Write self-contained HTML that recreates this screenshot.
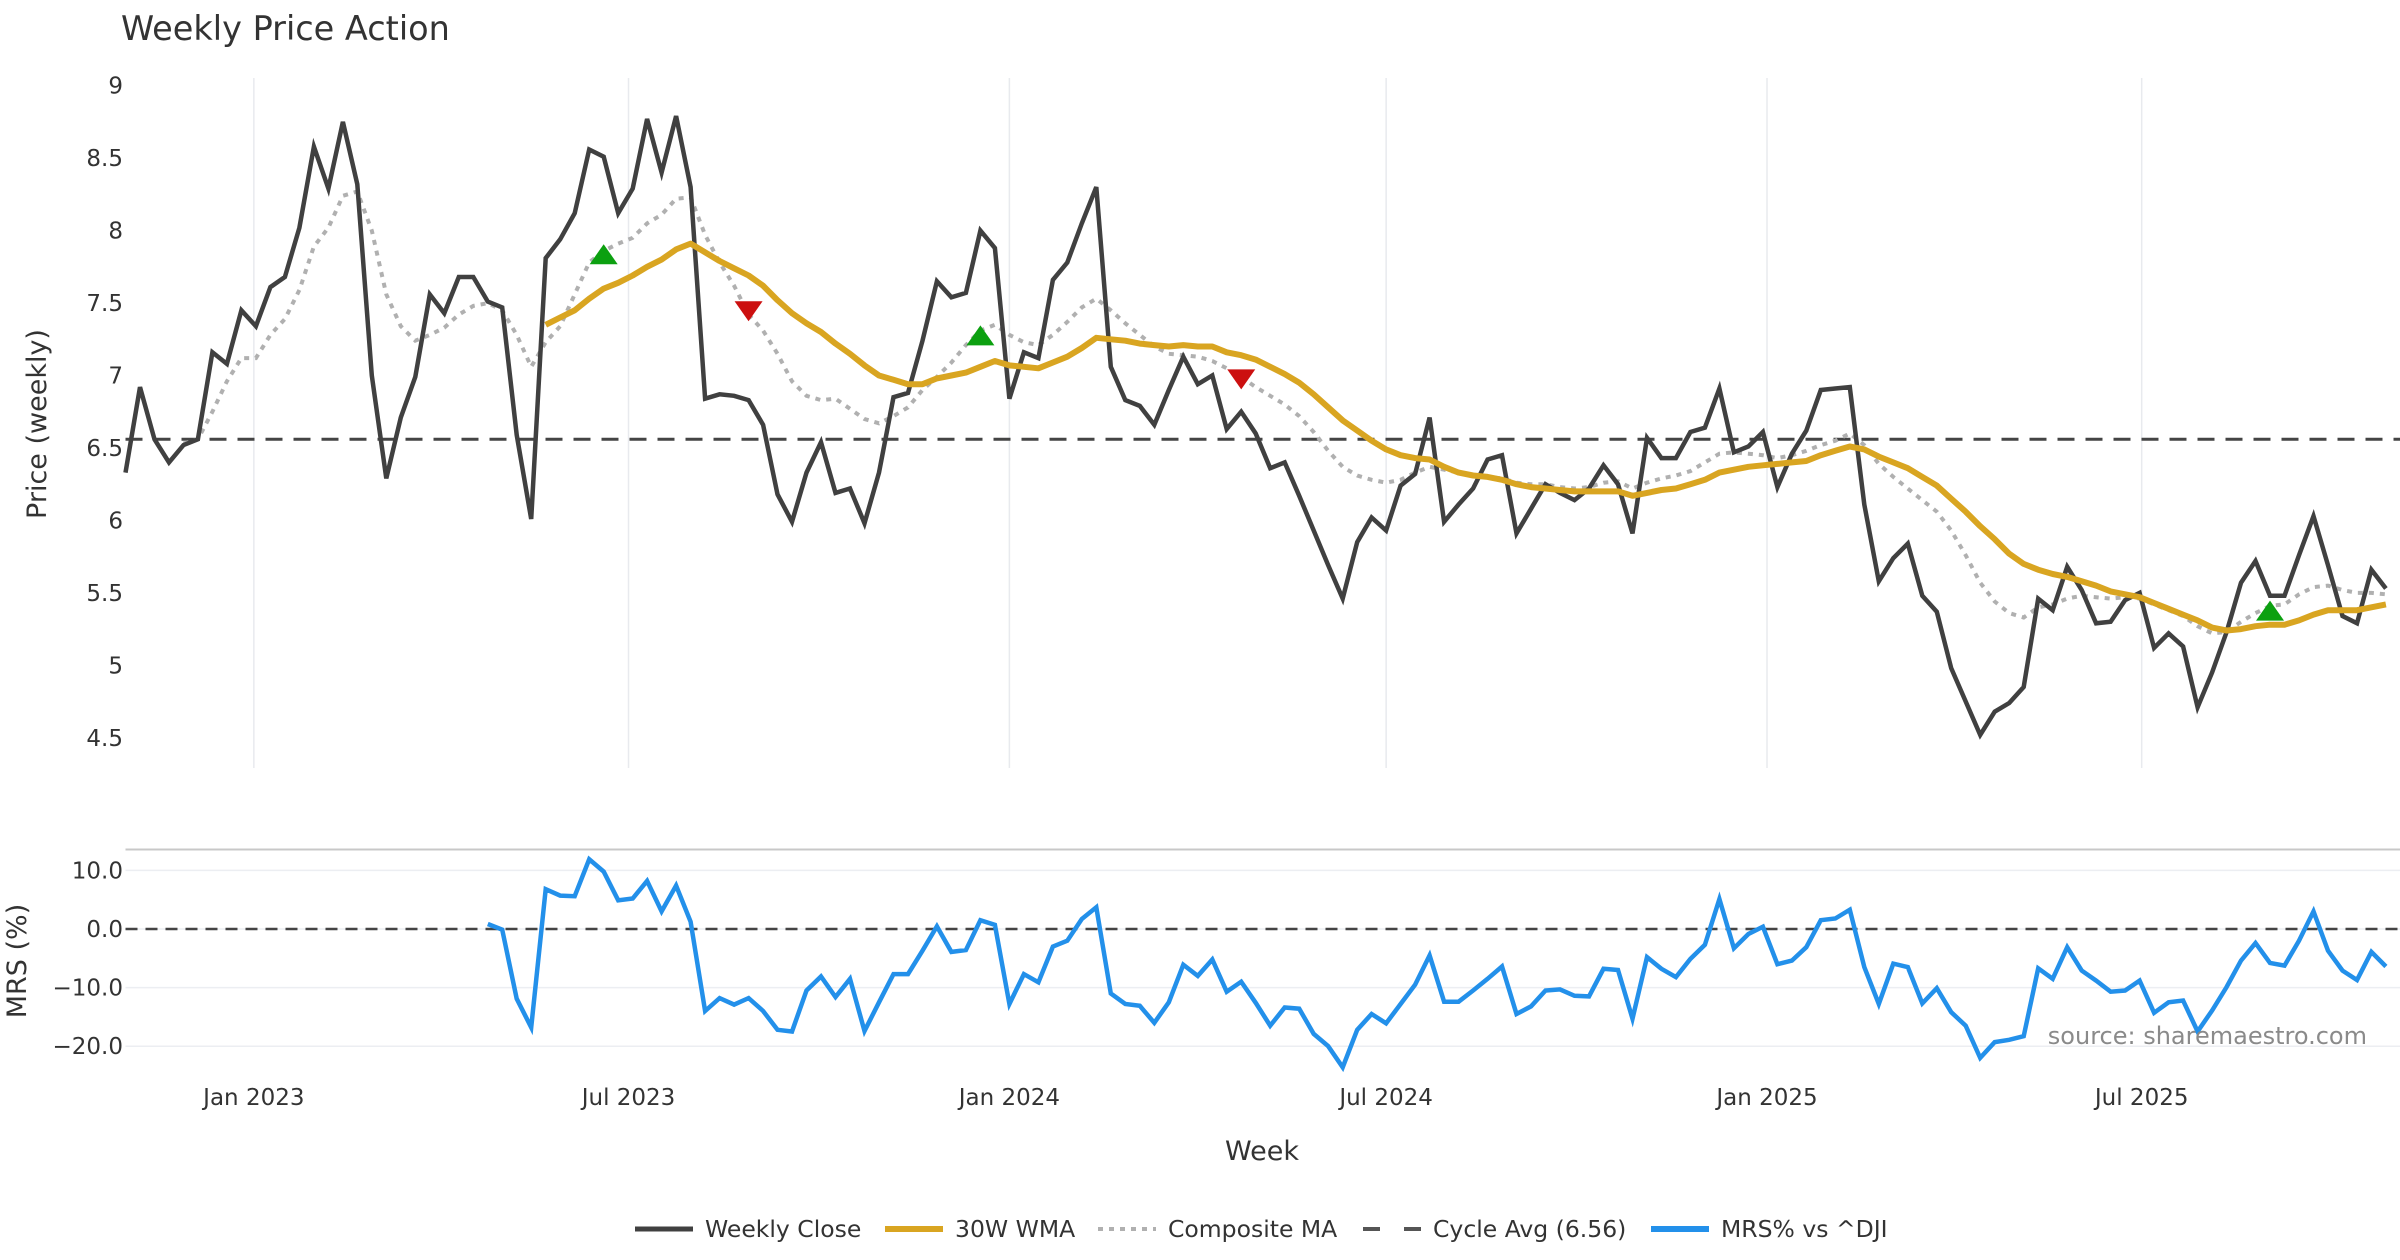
<!DOCTYPE html>
<html><head><meta charset="utf-8"><style>
html,body{margin:0;padding:0;background:#fff;}
svg{display:block;font-family:"DejaVu Sans","Liberation Sans",sans-serif;}
</style></head><body>
<svg id="chart" width="2400" height="1260" viewBox="0 0 2400 1260" xmlns="http://www.w3.org/2000/svg">
<rect width="2400" height="1260" fill="#fff"/>
<text x="121" y="40" font-size="33.5" fill="#333">Weekly Price Action</text>
<g id="grid"></g>
<g id="series"></g>
<g id="axes"></g>
<g id="legend"></g>
</svg>
<script>
const closeVals=[6.33,6.92,6.56,6.40,6.52,6.56,7.16,7.08,7.45,7.34,
7.61,7.68,8.02,8.58,8.29,8.75,8.32,7.00,6.29,6.71,
6.99,7.56,7.43,7.68,7.68,7.51,7.47,6.59,6.01,7.81,
7.94,8.12,8.56,8.51,8.12,8.29,8.77,8.40,8.79,8.30,
6.84,6.87,6.86,6.83,6.66,6.18,5.99,6.33,6.54,6.19,
6.22,5.98,6.33,6.85,6.88,7.24,7.65,7.54,7.57,8.00,
7.88,6.84,7.16,7.12,7.66,7.78,8.05,8.30,7.06,6.83,
6.79,6.66,6.90,7.13,6.94,7.00,6.63,6.75,6.60,6.36,
6.40,6.17,5.93,5.69,5.46,5.85,6.02,5.93,6.24,6.32,
6.71,5.99,6.11,6.22,6.42,6.45,5.91,6.08,6.25,6.19,
6.14,6.22,6.38,6.25,5.91,6.57,6.43,6.43,6.61,6.64,
6.91,6.47,6.51,6.61,6.23,6.46,6.62,6.90,6.91,6.92,
6.11,5.58,5.74,5.84,5.48,5.37,4.98,4.75,4.52,4.68,
4.74,4.85,5.46,5.38,5.68,5.52,5.29,5.30,5.45,5.50,
5.12,5.22,5.13,4.71,4.95,5.23,5.57,5.72,5.48,5.48,
5.76,6.03,5.69,5.34,5.29,5.66,5.53];
const wmaStart=29;
const wmaVals=[7.35,7.40,7.45,7.53,7.60,7.64,7.69,7.75,7.80,7.87,7.91,
7.85,7.79,7.74,7.69,7.62,7.52,7.43,7.36,7.30,7.22,
7.15,7.07,7.00,6.97,6.94,6.94,6.98,7.00,7.02,7.06,
7.10,7.07,7.06,7.05,7.09,7.13,7.19,7.26,7.25,7.24,
7.22,7.21,7.20,7.21,7.20,7.20,7.16,7.14,7.11,7.06,
7.01,6.95,6.87,6.78,6.69,6.62,6.55,6.49,6.45,6.43,
6.42,6.37,6.33,6.31,6.30,6.28,6.25,6.23,6.22,6.21,
6.20,6.20,6.20,6.20,6.17,6.19,6.21,6.22,6.25,6.28,
6.33,6.35,6.37,6.38,6.39,6.40,6.41,6.45,6.48,6.51,
6.49,6.44,6.40,6.36,6.30,6.24,6.15,6.06,5.96,5.87,
5.77,5.70,5.66,5.63,5.61,5.58,5.55,5.51,5.49,5.47,
5.43,5.39,5.35,5.31,5.26,5.24,5.25,5.27,5.28,5.28,
5.31,5.35,5.38,5.38,5.38,5.40,5.42];
const compStart=4;
const compVals=[6.53,6.56,6.75,6.96,7.12,7.12,
7.28,7.39,7.59,7.89,8.02,8.24,8.27,8.00,7.56,7.34,
7.24,7.28,7.33,7.42,7.48,7.50,7.45,7.28,7.06,7.23,
7.34,7.56,7.78,7.86,7.91,7.95,8.05,8.11,8.22,8.23,
7.97,7.78,7.62,7.42,7.31,7.15,6.96,6.86,6.83,6.84,
6.77,6.70,6.67,6.72,6.78,6.90,6.99,7.09,7.21,7.31,
7.35,7.28,7.23,7.21,7.28,7.37,7.47,7.53,7.45,7.36,
7.28,7.20,7.15,7.14,7.13,7.10,7.05,6.99,6.92,6.86,
6.80,6.72,6.61,6.48,6.37,6.31,6.28,6.26,6.28,6.33,
6.37,6.35,6.33,6.31,6.30,6.29,6.26,6.25,6.25,6.23,
6.22,6.23,6.26,6.27,6.22,6.26,6.29,6.31,6.34,6.40,
6.46,6.47,6.46,6.45,6.43,6.45,6.48,6.52,6.55,6.60,
6.52,6.39,6.30,6.22,6.14,6.06,5.93,5.76,5.57,5.44,
5.36,5.33,5.40,5.42,5.46,5.48,5.47,5.46,5.47,5.46,
5.42,5.38,5.34,5.27,5.22,5.23,5.30,5.36,5.41,5.42,
5.49,5.54,5.55,5.52,5.50,5.50,5.49];
const mrsStart=25;
const mrsVals=[0.85,-0.1,-11.9,-16.8,6.8,
5.7,5.6,11.9,9.8,4.9,5.2,8.2,3.0,7.4,1.25,
-14.0,-11.8,-12.9,-11.8,-14.0,-17.2,-17.5,-10.5,-8.1,-11.6,
-8.5,-17.4,-12.5,-7.7,-7.7,-3.7,0.45,-3.9,-3.6,1.5,
0.7,-12.8,-7.7,-9.1,-3.0,-2.0,1.7,3.7,-11.0,-12.8,
-13.1,-16.0,-12.5,-6.1,-8.0,-5.2,-10.7,-9.0,-12.6,-16.5,
-13.4,-13.6,-17.9,-20.0,-23.6,-17.2,-14.5,-16.1,-12.8,-9.5,
-4.5,-12.4,-12.4,-10.5,-8.5,-6.4,-14.5,-13.2,-10.5,-10.3,
-11.4,-11.5,-6.8,-7.0,-15.3,-4.8,-6.8,-8.2,-5.1,-2.7,
5.1,-3.3,-0.85,0.4,-6.0,-5.4,-3.1,1.5,1.8,3.3,
-6.5,-12.8,-5.9,-6.5,-12.7,-10.1,-14.2,-16.5,-22.0,-19.3,
-18.9,-18.3,-6.7,-8.5,-3.1,-7.1,-8.8,-10.7,-10.5,-8.8,
-14.3,-12.5,-12.2,-17.5,-13.9,-9.9,-5.4,-2.4,-5.8,-6.25,
-2.0,3.0,-3.7,-7.1,-8.7,-3.9,-6.4];
const cycleAvg=6.56;
const buyWeeks=[33,59,148];
const buyVals=[7.83,7.27,5.37];
const sellWeeks=[43,77];
const sellVals=[7.45,6.98];
const priceTicks=[9,8.5,8,7.5,7,6.5,6,5.5,5,4.5];
const mrsTicks=[10,0,-10,-20];
const mrsTickLabels=["10.0","0.0","\u221210.0","\u221220.0"];
const dateTicks=["2023-01-01","2023-07-01","2024-01-01","2024-07-01","2025-01-01","2025-07-01"];
const dateTickLabels=["Jan 2023","Jul 2023","Jan 2024","Jul 2024","Jan 2025","Jul 2025"];
const startDate="2022-10-31";

const NS="http://www.w3.org/2000/svg";
const X0=125.5, DX=14.49;
function xw(i){return X0+DX*i;}
function yp(v){return 85.7+(9-v)*144.9;}
function ym(v){return 929-v*5.86;}
function dateIdx(s){return (Date.parse(s)-Date.parse(startDate))/(7*86400000);}
function mk(tag,attrs,parent){const e=document.createElementNS(NS,tag);for(const k in attrs)e.setAttribute(k,attrs[k]);parent.appendChild(e);return e;}
const grid=document.getElementById('grid'),ser=document.getElementById('series'),axes=document.getElementById('axes'),leg=document.getElementById('legend');

dateTicks.forEach((d,k)=>{
  const x=xw(dateIdx(d));
  const g=mk('line',{x1:x,x2:x,y1:78,y2:768,stroke:'#e8eaee','stroke-width':1.5},grid);
  
  
  const t=mk('text',{x:x,y:1105,'font-size':23,fill:'#333','text-anchor':'middle'},axes);
  t.textContent=dateTickLabels[k];
  
  
});
priceTicks.forEach(v=>{
  const t=mk('text',{x:123,y:yp(v)+8,'font-size':23,fill:'#333','text-anchor':'end'},axes);
  t.textContent=String(v);
  
  
});
mrsTicks.forEach((v,k)=>{
  const g=mk('line',{x1:125.5,x2:2400,y1:ym(v),y2:ym(v),stroke:'#eceef2','stroke-width':1.5},grid);
  
  
  const t=mk('text',{x:123,y:ym(v)+8,'font-size':23,fill:'#333','text-anchor':'end'},axes);
  t.textContent=mrsTickLabels[k];
  
  
});
const pd=mk('line',{x1:125.5,x2:2400,y1:849.5,y2:849.5,stroke:'#c8c8c8','stroke-width':2},grid);



let t=mk('text',{x:0,y:0,'font-size':27,fill:'#333','text-anchor':'middle',transform:'translate(46,424) rotate(-90)'},axes);
t.textContent='Price (weekly)';


t=mk('text',{x:0,y:0,'font-size':27,fill:'#333','text-anchor':'middle',transform:'translate(26,961) rotate(-90)'},axes);
t.textContent='MRS (%)';


t=mk('text',{x:1262,y:1160,'font-size':27,fill:'#333','text-anchor':'middle'},axes);
t.textContent='Week';


t=mk('text',{x:2367,y:1044,'font-size':24,fill:'#8a8a8a','text-anchor':'end'},axes);
t.textContent='source: sharemaestro.com';



function pathFrom(vals,start,yf){return vals.map((v,k)=>(k?'L':'M')+xw(start+k).toFixed(1)+','+yf(v).toFixed(1)).join('');}

let l=mk('line',{x1:125.5,x2:2400,y1:yp(cycleAvg),y2:yp(cycleAvg),stroke:'#444','stroke-width':3,'stroke-dasharray':'17 11'},ser);


l=mk('path',{d:pathFrom(compVals,compStart,yp),fill:'none',stroke:'#b0b0b0','stroke-width':4,'stroke-dasharray':'5 6'},ser);


l=mk('path',{d:pathFrom(closeVals,0,yp),fill:'none',stroke:'#404040','stroke-width':4.5,'stroke-linejoin':'miter'},ser);


l=mk('path',{d:pathFrom(wmaVals,wmaStart,yp),fill:'none',stroke:'#d9a521','stroke-width':6,'stroke-linejoin':'round'},ser);


buyWeeks.forEach((w,k)=>{
  const x=xw(w),y=yp(buyVals[k]);
  const p=mk('polygon',{points:`${x-14},${y+9} ${x+14},${y+9} ${x},${y-11}`,fill:'#0ca010'},ser);
  
  
});
sellWeeks.forEach((w,k)=>{
  const x=xw(w),y=yp(sellVals[k]);
  const p=mk('polygon',{points:`${x-14},${y-9} ${x+14},${y-9} ${x},${y+11}`,fill:'#cc1010'},ser);
  
  
});
l=mk('line',{x1:125.5,x2:2400,y1:ym(0),y2:ym(0),stroke:'#444','stroke-width':2.5,'stroke-dasharray':'12 8'},ser);


l=mk('path',{d:pathFrom(mrsVals,mrsStart,ym),fill:'none',stroke:'#2390ea','stroke-width':4.5,'stroke-linejoin':'miter'},ser);



const legItems=[
 {x:635,label:'Weekly Close',stroke:'#404040',dash:'',w:5},
 {x:885,label:'30W WMA',stroke:'#d9a521',dash:'',w:6},
 {x:1098,label:'Composite MA',stroke:'#b0b0b0',dash:'5 6',w:4},
 {x:1363,label:'Cycle Avg (6.56)',stroke:'#555',dash:'17 24',w:4},
 {x:1651,label:'MRS% vs ^DJI',stroke:'#2390ea',dash:'',w:6}];
legItems.forEach(it=>{
  const g=mk('g',{},leg);
  
  
  const a={x1:it.x,x2:it.x+58,y1:1229,y2:1229,stroke:it.stroke,'stroke-width':it.w};
  if(it.dash)a['stroke-dasharray']=it.dash;
  mk('line',a,g);
  const tx=mk('text',{x:it.x+70,y:1237,'font-size':23.5,fill:'#333'},g);
  tx.textContent=it.label;
});
</script>
</body></html>
